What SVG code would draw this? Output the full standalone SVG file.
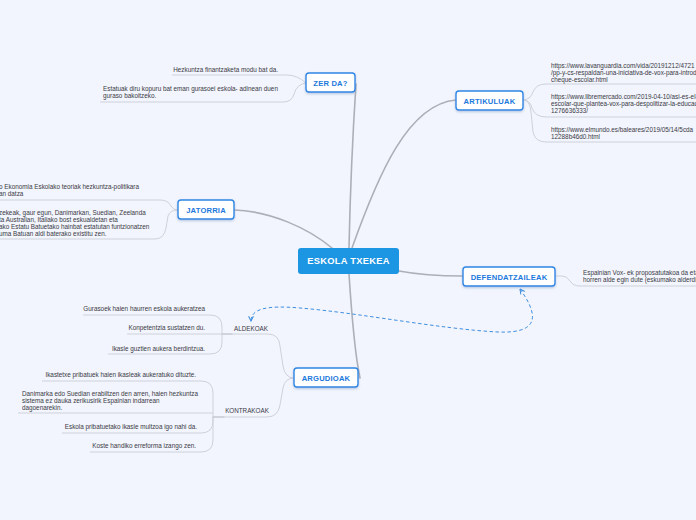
<svg xmlns="http://www.w3.org/2000/svg" width="696" height="520" viewBox="0 0 696 520">
<defs>
<filter id="sh" x="-20%" y="-30%" width="140%" height="170%">
<feDropShadow dx="0" dy="1.2" stdDeviation="0.9" flood-color="#7f9cc8" flood-opacity="0.55"/>
</filter>
<marker id="arr" viewBox="0 0 10 10" refX="9" refY="5" markerWidth="6" markerHeight="6" orient="auto-start-reverse" markerUnits="userSpaceOnUse">
<path d="M1,1 L9,5 L1,9" fill="none" stroke="#3f8fe0" stroke-width="1.8"/>
</marker>
</defs>
<style>
.main{fill:none;stroke:#acafb8;stroke-width:1.6;stroke-linecap:round}
.leaf{fill:none;stroke:#cdd1da;stroke-width:1}
.box{fill:#ffffff;stroke:#2f87e4;stroke-width:1.4}
.lbl{font-family:"Liberation Sans",Arial,sans-serif;font-weight:bold;font-size:7.6px;fill:#1b78dc;text-anchor:middle;letter-spacing:0.2px}
.t{font-family:"Liberation Sans",Arial,sans-serif;font-size:6.35px;fill:#3a3a44}
.r{text-anchor:end}
.sub{font-family:"Liberation Sans",Arial,sans-serif;font-size:6.3px;fill:#3a3a44;text-anchor:middle}
.dash{fill:none;stroke:#3f8fe0;stroke-width:1;stroke-dasharray:3.5,2.5}
</style>
<rect width="696" height="520" fill="#f2f5fd"/>

<g id="connectors">
<path class="main" d="M349,248 C350,200 353,130 356,84"/>
<path class="main" d="M352,248 C378,175 408,104 456,100"/>
<path class="main" d="M234,210 C270,211 308,228 332,248"/>
<path class="main" d="M399,271 C420,275 440,276 463,276"/>
<path class="main" d="M349,274 C352,320 355,355 360,378"/>

<path class="leaf" d="M172,75 H287 Q297,75 306,83"/>
<path class="leaf" d="M100,102 H283 Q292,102 294,94 Q297,84 306,83"/>

<path class="leaf" d="M523,100 Q530,100 533,92 Q536,84 546,84 H696"/>
<path class="leaf" d="M523,100 Q530,100 532,108 Q535,117 546,117 H696"/>
<path class="leaf" d="M523,100 Q530,100 531,112 L533,132 Q535,142 546,142 H696"/>

<path class="leaf" d="M0,200 H160 Q168,200 171,206 Q173,210 178,210"/>
<path class="leaf" d="M0,239 H155 Q164,239 166,228 L168,216 Q170,210 178,210"/>

<path class="leaf" d="M555,276 H562 Q567,276 570,281 Q573,286 580,286 H696"/>

<path class="leaf" d="M223,334 H268 Q279,334 280,346 L283,366 Q285,378 294,378"/>
<path class="leaf" d="M213,417 H267 Q278,417 280,405 L283,388 Q285,378 294,378"/>

<path class="leaf" d="M83,315 H210 Q222,315 222,327 V334"/>
<path class="leaf" d="M127,334 H223"/>
<path class="leaf" d="M108,354 H210 Q222,354 222,342 V334"/>

<path class="leaf" d="M42,381 H201 Q213,381 213,393 V417"/>
<path class="leaf" d="M18,413 H213"/>
<path class="leaf" d="M62,433 H201 Q213,433 213,421 V417"/>
<path class="leaf" d="M90,452 H201 Q213,452 213,440 V417"/>
<path class="main" d="M213,417 H224" style="stroke-width:1.2;stroke:#bfc3cc"/>
<path class="main" d="M222,334 H232" style="stroke-width:1.2;stroke:#bfc3cc"/>

<path class="dash" marker-start="url(#arr)" marker-end="url(#arr)" d="M520,289 C535,310 545,334 498,332 C440,329 360,313 300,308 C266,305 251,309 251,321"/>
</g>

<g id="center">
<rect x="298" y="248" width="101" height="26" rx="3" fill="#1c95e3"/>
<text x="348.5" y="264.3" font-family="'Liberation Sans',Arial,sans-serif" font-weight="bold" font-size="9.3px" fill="#ffffff" text-anchor="middle" letter-spacing="0.3">ESKOLA TXEKEA</text>
</g>

<g id="zerda">
<rect class="box" x="306" y="73" width="49" height="19" rx="3" filter="url(#sh)"/>
<text class="lbl" x="330.5" y="85.5">ZER DA?</text>
<text class="t r" x="278" y="72">Hezkuntza finantzaketa modu bat da.</text>
<text class="t" x="103" y="90.5">Estatuak diru kopuru bat eman gurasoei eskola- adinean duen</text>
<text class="t" x="103" y="98">guraso bakoitzeko.</text>
</g>

<g id="artikuluak">
<rect class="box" x="456" y="91" width="67" height="19" rx="3" filter="url(#sh)"/>
<text class="lbl" x="489.5" y="103.5">ARTIKULUAK</text>
<text class="t" x="551" y="67.5">https://www.lavanguardia.com/vida/20191212/4721</text>
<text class="t" x="551" y="74.5">/pp-y-cs-respaldan-una-iniciativa-de-vox-para-introd</text>
<text class="t" x="551" y="81.5">cheque-escolar.html</text>
<text class="t" x="551" y="99">https://www.libremercado.com/2019-04-10/asi-es-el-</text>
<text class="t" x="551" y="106">escolar-que-plantea-vox-para-despolitizar-la-educac</text>
<text class="t" x="551" y="113">1276636333/</text>
<text class="t" x="551" y="132">https://www.elmundo.es/baleares/2019/05/14/5cda</text>
<text class="t" x="551" y="139">12288b46d0.html</text>
</g>

<g id="jatorria">
<rect class="box" x="178" y="200" width="56" height="19" rx="3" filter="url(#sh)"/>
<text class="lbl" x="206" y="212.5">JATORRIA</text>
<text class="t" x="-1" y="189">o Ekonomia Eskolako teoriak hezkuntza-politikara</text>
<text class="t" x="-1" y="196">an datza</text>
<text class="t" x="-1" y="215">zekeak, gaur egun, Danimarkan, Suedian, Zeelanda</text>
<text class="t" x="-1" y="222">ta Australian, Italiako bost eskualdetan eta</text>
<text class="t" x="-1" y="229">ako Estatu Batuetako hainbat estatutan funtzionatzen</text>
<text class="t" x="-1" y="236">uma Batuan aldi baterako existitu zen.</text>
</g>

<g id="defendatzaileak">
<rect class="box" x="463" y="267" width="92" height="19" rx="3" filter="url(#sh)"/>
<text class="lbl" x="509" y="279.5">DEFENDATZAILEAK</text>
<text class="t" x="583" y="274.5">Espainian Vox- ek proposatutakoa da eta</text>
<text class="t" x="583" y="282">horren alde egin dute (eskumako alderdi</text>
</g>

<g id="argudioak">
<rect class="box" x="294" y="368" width="64" height="19" rx="3" filter="url(#sh)"/>
<text class="lbl" x="326" y="380.5">ARGUDIOAK</text>
</g>

<g id="aldekoak">
<text class="sub" x="251" y="330.5">ALDEKOAK</text>
<text class="t r" x="205" y="311">Gurasoek haien haurren eskola aukeratzea</text>
<text class="t r" x="205" y="330">Konpetentzia sustatzen du.</text>
<text class="t r" x="205" y="350.5">Ikasle guztien aukera berdintzua.</text>
</g>

<g id="kontrakoak">
<text class="sub" x="247" y="413">KONTRAKOAK</text>
<text class="t r" x="196" y="377">Ikastetxe pribatuek haien ikasleak aukeratuko dituzte.</text>
<text class="t" x="22" y="396">Danimarka edo Suedian erabiltzen den arren, haien hezkuntza</text>
<text class="t" x="22" y="403">sistema ez dauka zerikusirik Espainian indarrean</text>
<text class="t" x="22" y="409.5">dagoenarekin.</text>
<text class="t r" x="197" y="429">Eskola pribatuetako ikasle multzoa igo nahi da.</text>
<text class="t r" x="196" y="448">Koste handiko erreforma izango zen.</text>
</g>
</svg>
